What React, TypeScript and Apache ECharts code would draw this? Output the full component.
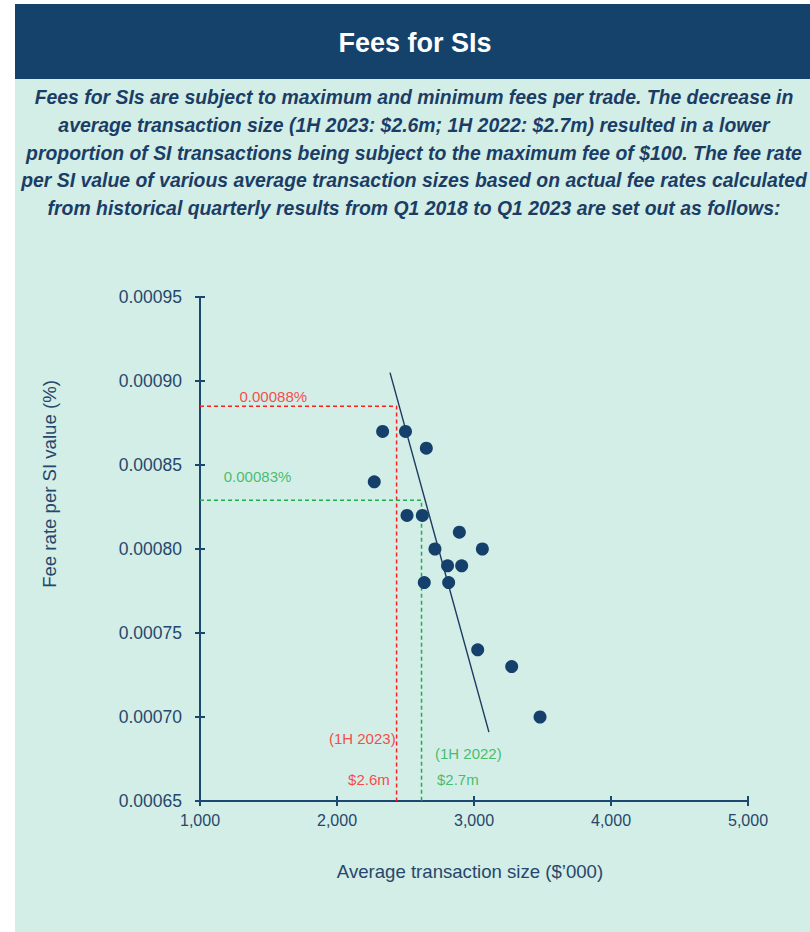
import React, { useEffect, useRef } from "react";
import * as echarts from "echarts";

const headerTitle = "Fees for SIs";
const paragraphLines = [
  "Fees for SIs are subject to maximum and minimum fees per trade. The decrease in",
  "average transaction size (1H 2023: $2.6m; 1H 2022: $2.7m) resulted in a lower",
  "proportion of SI transactions being subject to the maximum fee of $100. The fee rate",
  "per SI value of various average transaction sizes based on actual fee rates calculated",
  "from historical quarterly results from Q1 2018 to Q1 2023 are set out as follows:",
];

// Scatter: average transaction size ($'000) vs fee rate per SI value (%)
const txSize = [2333, 2500, 2652, 2272, 2511, 2623, 2893, 2715, 3061, 2807, 2910, 2637, 2815, 3027, 3275, 3482];
const feeRate = [0.00087, 0.00087, 0.00086, 0.00084, 0.00082, 0.00082, 0.00081, 0.0008, 0.0008, 0.00079, 0.00079, 0.00078, 0.00078, 0.00074, 0.00073, 0.0007];

// Trend line end points
const trendX = [2387, 3109];
const trendY = [0.000905, 0.000691];

// Reference lines
const size1H2023 = 2435;
const rate1H2023 = 0.000885;
const size1H2022 = 2617;
const rate1H2022 = 0.000829;

// Axis ranges
const xMin = 1000;
const xMax = 5000;
const xStep = 1000;
const yMin = 0.00065;
const yMax = 0.00095;
const yStep = 0.00005;

// Annotation labels (anchored in data coordinates)
const annotText = ["0.00088%", "0.00083%", "(1H 2023)", "$2.6m", "(1H 2022)", "$2.7m"];
const annotX = [1535, 1420, 2428, 2385, 2715, 2730];
const annotY = [0.000891, 0.000843, 0.000687, 0.000663, 0.000678, 0.000663];
const annotAlign = ["center", "center", "right", "right", "left", "left"];
const annotColor = ["red", "green", "red", "red", "green", "green"];

const xAxisTitle = "Average transaction size ($\u2019000)";
const yAxisTitle = "Fee rate per SI value (%)";

const NAVY = "#15426a";
const MINT = "#d3ede7";
const AXIS = "#1b4870";
const LABEL = "#26476b";
const RED = "#ff2020";
const GREEN = "#1fb04c";
const FONT = "'Liberation Sans', Arial, Helvetica, sans-serif";

export default function App() {
  const ref = useRef<HTMLDivElement>(null);

  useEffect(() => {
    if (!ref.current) return;
    const chart = echarts.init(ref.current, undefined, { renderer: "svg" });

    const axisCommon = {
      min: xMin,
      max: xMax,
      interval: xStep,
    };

    const option: any = {
      animation: false,
      backgroundColor: MINT,
      textStyle: { fontFamily: FONT },
      grid: { left: 200, right: 62, top: 297, bottom: 131, containLabel: false },
      xAxis: [
        {
          type: "value",
          ...axisCommon,
          position: "bottom",
          axisLine: { show: true, lineStyle: { color: AXIS, width: 2 } },
          axisTick: { show: true, length: 5, lineStyle: { color: AXIS, width: 2 } },
          splitLine: { show: false },
          axisLabel: {
            color: LABEL,
            fontSize: 16,
            fontFamily: FONT,
            margin: 11,
            formatter: (v: number) => v.toLocaleString("en-US"),
          },
          name: xAxisTitle,
          nameLocation: "middle",
          nameGap: 61,
          nameTextStyle: { color: LABEL, fontSize: 18.6, fontFamily: FONT, padding: [0, 8, 0, 0] },
        },
        {
          type: "value",
          ...axisCommon,
          position: "bottom",
          axisLine: { show: false },
          axisTick: { show: true, inside: true, length: 5, lineStyle: { color: AXIS, width: 2 } },
          axisLabel: { show: false },
          splitLine: { show: false },
        },
      ],
      yAxis: [
        {
          type: "value",
          min: yMin,
          max: yMax,
          interval: yStep,
          position: "left",
          axisLine: { show: true, lineStyle: { color: AXIS, width: 2 } },
          axisTick: { show: true, length: 5, lineStyle: { color: AXIS, width: 2 } },
          splitLine: { show: false },
          axisLabel: {
            color: LABEL,
            fontSize: 17.5,
            fontFamily: FONT,
            margin: 18,
            formatter: (v: number) => v.toFixed(5),
          },
        },
        {
          type: "value",
          min: yMin,
          max: yMax,
          interval: yStep,
          position: "left",
          axisLine: { show: false },
          axisTick: { show: true, inside: true, length: 5, lineStyle: { color: AXIS, width: 2 } },
          axisLabel: { show: false },
          splitLine: { show: false },
        },
      ],
      graphic: [
        { type: "rect", shape: { x: 0, y: 0, width: 15, height: 932 }, style: { fill: "#ffffff" }, silent: true },
        { type: "rect", shape: { x: 0, y: 0, width: 810, height: 4 }, style: { fill: "#ffffff" }, silent: true },
        { type: "rect", shape: { x: 15, y: 4, width: 795, height: 75 }, style: { fill: NAVY }, silent: true },
        {
          type: "text",
          x: 415,
          y: 43,
          style: {
            text: headerTitle,
            fill: "#ffffff",
            font: `bold 27px ${FONT}`,
            textAlign: "center",
            textVerticalAlign: "middle",
          },
          silent: true,
        },
        ...paragraphLines.map((line, i) => ({
          type: "text",
          x: 414,
          y: 97 + i * 27.8,
          style: {
            text: line,
            fill: "#1b3d65",
            font: `italic bold 19.4px ${FONT}`,
            textAlign: "center",
            textVerticalAlign: "middle",
          },
          silent: true,
        })),
        {
          type: "text",
          x: 49,
          y: 484,
          rotation: Math.PI / 2,
          style: {
            text: yAxisTitle,
            fill: LABEL,
            font: `18.6px ${FONT}`,
            textAlign: "center",
            textVerticalAlign: "middle",
          },
          silent: true,
        },
      ],
      series: [
        {
          name: "1H 2023 reference",
          type: "line",
          xAxisIndex: 0,
          yAxisIndex: 0,
          symbol: "none",
          silent: true,
          lineStyle: { color: RED, width: 1.5, type: [4, 3] },
          data: [
            [xMin, rate1H2023],
            [size1H2023, rate1H2023],
            [size1H2023, yMin],
          ],
          z: 3,
        },
        {
          name: "1H 2022 reference",
          type: "line",
          xAxisIndex: 0,
          yAxisIndex: 0,
          symbol: "none",
          silent: true,
          lineStyle: { color: GREEN, width: 1.5, type: [4, 3] },
          data: [
            [xMin, rate1H2022],
            [size1H2022, rate1H2022],
            [size1H2022, yMin],
          ],
          z: 3,
        },
        {
          name: "Trend",
          type: "line",
          xAxisIndex: 0,
          yAxisIndex: 0,
          symbol: "none",
          silent: true,
          lineStyle: { color: "#1c3a60", width: 1.4 },
          data: trendX.map((x, i) => [x, trendY[i]]),
          z: 4,
        },
        {
          name: "Fee rate",
          type: "scatter",
          xAxisIndex: 0,
          yAxisIndex: 0,
          symbolSize: 13,
          itemStyle: { color: "#15406b", opacity: 1 },
          data: txSize.map((x, i) => [x, feeRate[i]]),
          z: 5,
        },
        {
          name: "Annotations",
          type: "scatter",
          xAxisIndex: 0,
          yAxisIndex: 0,
          symbolSize: 0,
          silent: true,
          z: 6,
          label: {
            show: true,
            position: "inside",
            formatter: "{b}",
            fontSize: 15,
            fontFamily: FONT,
            verticalAlign: "middle",
          },
          data: annotText.map((t, i) => ({
            name: t,
            value: [annotX[i], annotY[i]],
            label: {
              align: annotAlign[i],
              color: annotColor[i] === "red" ? RED : GREEN,
            },
          })),
        },
      ],
    };

    chart.setOption(option);
    return () => chart.dispose();
  }, []);

  return (
    <div
      ref={ref}
      style={{ position: "fixed", left: 0, top: 0, width: 810, height: 932 }}
    />
  );
}
